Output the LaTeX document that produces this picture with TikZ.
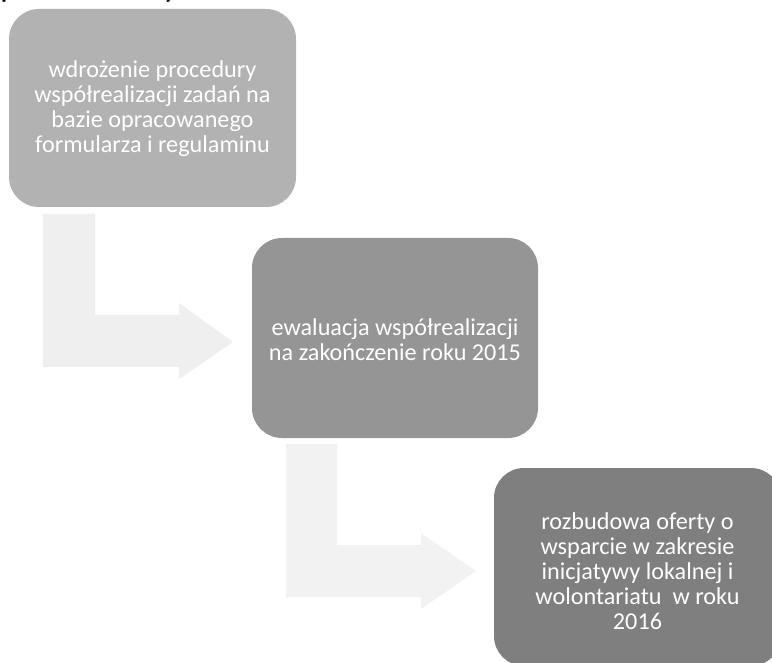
\documentclass[tikz,border=0pt]{standalone}
\usepackage{fontspec}
\setmainfont{Carlito}
\definecolor{boxA}{HTML}{B2B2B2}
\definecolor{boxB}{HTML}{959595}
\definecolor{boxC}{HTML}{7F7F7F}
\definecolor{arrA}{HTML}{EFEFEF}
\definecolor{arrB}{HTML}{F2F2F2}
\begin{document}
\begin{tikzpicture}[x=1pt,y=-1pt,
  stagebox/.style={rounded corners=30pt},
  stagetext/.style={text=white, align=center, font=\fontsize{24.2}{25}\selectfont, inner sep=0pt},
  bentarrow/.style={draw=none}]
\useasboundingbox (0,0) rectangle (772,663);
\clip (0,0) rectangle (772,663);
\fill[white] (0,0) rectangle (772,663);
% clipped heading fragments
\node[anchor=base west, inner sep=0pt, font=\fontsize{24}{28}\selectfont\bfseries] (hp) at (1,-1) {p};
\node[anchor=base west, inner sep=0pt, font=\fontsize{24}{28}\selectfont\bfseries] (hy) at (164,-1) {y};
% bent arrows
\fill[arrA] (43,214) -- (95,214) -- (95,315) -- (179,315) -- (179,303) -- (233,342) -- (179,379) -- (179,367) -- (43,367) -- cycle;
\fill[arrB] (286,444) -- (337,444) -- (337,545) -- (421,545) -- (421,533) -- (476,571) -- (421,609) -- (421,597) -- (286,597) -- cycle;
% boxes
\fill[boxA, stagebox] (9,9) rectangle (296,207);
\fill[boxB, stagebox] (252,238) rectangle (538,438);
\fill[boxC, stagebox] (494,468) rectangle (781,666);
\node[stagetext] (s1) at (152.5,109) {wdrożenie procedury\\współrealizacji zadań na\\bazie opracowanego\\formularza i regulaminu};
\node[stagetext] (s2) at (395,340) {ewaluacja współrealizacji\\na zakończenie roku 2015};
\node[stagetext] (s3) at (637.5,571) {rozbudowa oferty o\\wsparcie w zakresie\\inicjatywy lokalnej i\\wolontariatu\ \ w roku\\2016};
\end{tikzpicture}
\end{document}
